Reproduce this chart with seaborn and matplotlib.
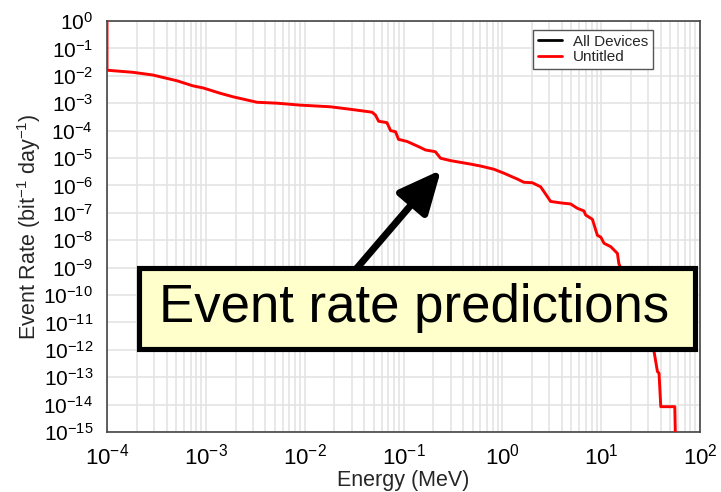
import matplotlib
matplotlib.use("Agg")
import matplotlib.pyplot as plt
from matplotlib.lines import Line2D
from matplotlib.patches import Rectangle
from matplotlib.ticker import LogLocator, NullFormatter, NullLocator
import seaborn as sns
import numpy as np

# ---- data ----
energy_mev = [1.0e-4, 1.0e-4, 1.83e-4, 2.9e-4, 5.1e-4, 7.4e-4, 9.4e-4, 1.4e-3, 1.9e-3,
              3.3e-3, 5.3e-3, 9.0e-3, 1.82e-2, 2.9e-2, 4.8e-2, 5.2e-2, 5.6e-2, 6.8e-2,
              7.4e-2, 8.3e-2, 8.9e-2, 0.109, 0.142, 0.167, 0.21, 0.237, 0.30, 0.476,
              0.60, 0.82, 1.035, 1.42, 1.65, 2.01, 2.44, 2.64, 3.08, 3.89, 4.91, 5.74,
              6.70, 6.97, 8.15, 9.16, 9.9, 10.7, 12.5, 14.6, 15.1, 34.3, 37.1, 38.5,
              40.1, 55.6, 56.9]
rate = [1.0, 1.6e-2, 1.34e-2, 1.07e-2, 6.6e-3, 4.3e-3, 3.6e-3, 2.3e-3, 1.7e-3,
        1.08e-3, 1.0e-3, 8.5e-4, 7.4e-4, 6.0e-4, 4.7e-4, 3.7e-4, 2.2e-4, 1.95e-4,
        1.0e-4, 9.1e-5, 4.8e-5, 4.0e-5, 2.6e-5, 1.96e-5, 1.7e-5, 9.8e-6, 8.0e-6, 6.0e-6,
        5.1e-6, 3.9e-6, 2.8e-6, 1.7e-6, 1.3e-6, 1.25e-6, 8.9e-7, 5.9e-7, 2.6e-7, 2.3e-7,
        2.1e-7, 1.46e-7, 1.17e-7, 8.3e-8, 5.8e-8, 1.5e-8, 1.3e-8, 7.7e-9, 5.8e-9,
        3.3e-9, 1.4e-9, 8.5e-13, 1.6e-13, 1.4e-13, 8.4e-15, 8.4e-15, 1.0e-16]
legend_labels = ["All Devices", "Untitled"]
legend_colors = ["black", "red"]
x_exps = [-4, -3, -2, -1, 0, 1, 2]
y_exps = list(range(0, -16, -1))
annotation_text = "Event rate predictions"

sns.set_style("whitegrid")
plt.rcParams["font.family"] = ["Liberation Sans", "DejaVu Sans"]
plt.rcParams["mathtext.fontset"] = "custom"
plt.rcParams["mathtext.rm"] = "Liberation Sans"
plt.rcParams["mathtext.it"] = "Liberation Sans:italic"
plt.rcParams["mathtext.bf"] = "Liberation Sans:bold"


def pow_label(e):
    return r"$\mathregular{10^{%d}}$" % e


W, H = 721, 492
AX_L, AX_R, AX_T, AX_B = 107, 700, 21, 432


def fx(px):
    return (px - AX_L) / (AX_R - AX_L)


def fy(py):
    return (AX_B - py) / (AX_B - AX_T)


fig = plt.figure(figsize=(W / 100, H / 100), dpi=100)
ax = fig.add_axes([AX_L / W, 1 - AX_B / H, (AX_R - AX_L) / W, (AX_B - AX_T) / H])

sns.lineplot(x=energy_mev, y=rate, estimator=None, sort=False, color="red",
             linewidth=2.1, ax=ax, zorder=3)

ax.set_xscale("log")
ax.set_yscale("log")
ax.set_xlim(1e-4, 1e2)
ax.set_ylim(1e-15, 1e0)

ax.set_xticks([10.0 ** e for e in x_exps])
ax.set_xticklabels([pow_label(e) for e in x_exps])
ax.xaxis.set_minor_locator(LogLocator(base=10, subs=np.arange(2, 10)))
ax.xaxis.set_minor_formatter(NullFormatter())
ax.set_yticks([10.0 ** e for e in y_exps])
ax.set_yticklabels([pow_label(e) for e in y_exps])
ax.yaxis.set_minor_locator(NullLocator())

ax.grid(True, which="major", color="#e2e2e2", linewidth=1.1)
ax.grid(True, which="minor", axis="x", color="#e2e2e2", linewidth=1.1)
ax.tick_params(axis="x", which="both", length=0, labelsize=16, pad=8, labelcolor="black")
ax.tick_params(axis="y", which="both", length=0, labelsize=15, pad=10, labelcolor="black")
for s in ax.spines.values():
    s.set_color("#444444")
    s.set_linewidth(1.2)
    s.set_visible(True)

ax.set_xlabel("Energy (MeV)", fontsize=15.5, labelpad=1)
ax.set_ylabel(r"Event Rate (bit$^{\mathregular{-1}}$ day$^{\mathregular{-1}}$)",
              fontsize=15.5, labelpad=0)

handles = [Line2D([0], [0], color=c, linewidth=2) for c in legend_colors]
leg = ax.legend(handles, legend_labels, loc="upper right",
                bbox_to_anchor=(fx(653), fy(30)),
                borderaxespad=0, fontsize=11, frameon=True, fancybox=False,
                handlelength=1.55, borderpad=0.3, labelspacing=0.12, handletextpad=0.75)
leg.get_frame().set_edgecolor("#555555")
leg.get_frame().set_linewidth(1.0)
leg.get_frame().set_alpha(1.0)
leg.set_zorder(5)

# arrow
ax.annotate("", xy=(fx(441), fy(170)), xytext=(fx(357), fy(268)),
            xycoords="axes fraction", textcoords="axes fraction",
            arrowprops=dict(arrowstyle="-|>,head_length=1.3,head_width=0.6",
                            mutation_scale=20, color="black", linewidth=5,
                            shrinkA=0, shrinkB=0),
            zorder=6)

# callout box
ax.add_patch(Rectangle((fx(138.5), fy(348.5)), fx(694.5) - fx(138.5), fy(267.5) - fy(348.5),
                       transform=ax.transAxes, facecolor="#ffffcc", edgecolor="black",
                       linewidth=3.7, zorder=7, clip_on=False))
ax.text(fx(414), fy(308), annotation_text,
        transform=ax.transAxes, ha="center", va="center", fontsize=38,
        color="black", zorder=8)

fig.savefig("out.png", dpi=100)
